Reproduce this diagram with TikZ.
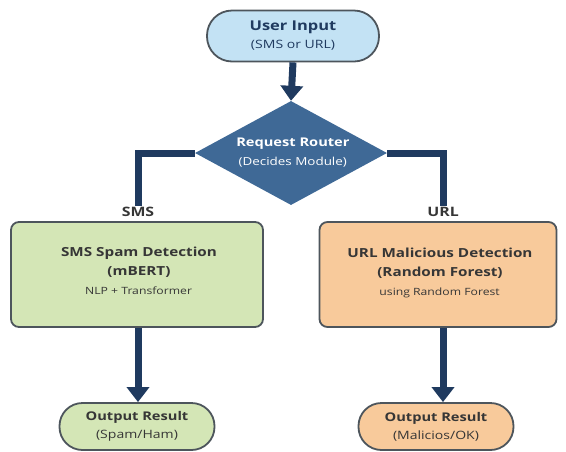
\documentclass[tikz,border=0pt]{standalone}
\usepackage{fontspec}
\setmainfont{Open Sans}[FakeStretch=1.22]
\usetikzlibrary{shapes.geometric,arrows.meta}
\definecolor{navy}{HTML}{1F3A5F}
\definecolor{ublue}{HTML}{C3E2F4}
\definecolor{rblue}{HTML}{3F6996}
\definecolor{sgreen}{HTML}{D4E6B6}
\definecolor{upeach}{HTML}{F8CA9B}
\definecolor{edge}{HTML}{4D555C}
\definecolor{txt}{HTML}{363636}
\newcommand{\fs}[1]{\fontsize{#1}{19}\selectfont}
\begin{document}
\begin{tikzpicture}[x=1pt,y=-1pt,
  pill/.style={draw=edge, line width=1.8pt, align=center, inner sep=0pt},
  box/.style={draw=edge, line width=1.8pt, rounded corners=8pt, inner sep=0pt, minimum height=105pt},
  btext/.style={align=center, inner sep=0pt, text=txt, font=\fs{12.5}},
  conn/.style={draw=navy, line width=7pt},
  arr/.style={conn, -{Triangle[width=22pt,length=15pt]}},
  lbl/.style={font=\bfseries\fs{13}, text=txt, inner sep=1pt}]
\useasboundingbox (0,0) rectangle (566,451);
\node[pill, fill=ublue, rounded corners=25pt, minimum width=172pt, minimum height=51pt, text=navy,
  font=\fontsize{13}{18}\selectfont] (user) at (293,36)
  {\bfseries\fontsize{13.5}{18}\selectfont User Input\\\fontsize{11.5}{18}\selectfont (SMS or URL)};
\node[shape=diamond, fill=rblue, aspect=1.85, minimum width=192pt, minimum height=104pt, inner sep=0pt,
  text=white, align=center, font=\fs{12}] (router) at (291,153)
  {\bfseries\fs{12} Request Router\\\fs{11} (Decides Module)};
\node[box, fill=sgreen, minimum width=252pt] (sms) at (137,274.5) {};
\node[btext] (smstext) at (137,271)
  {\bfseries\fs{12.5} SMS Spam Detection\\\bfseries\fs{12.5} (mBERT)\\\fs{10} NLP + Transformer};
\node[box, fill=upeach, minimum width=237pt] (url) at (438,274.5) {};
\node[btext] (urltext) at (438,273)
  {\bfseries\fs{12.5} URL Malicious Detection\\\bfseries\fs{12.5} (Random Forest)\\\fs{10} using Random Forest};
\node[lbl] (smslbl) at (138,212) {SMS};
\node[lbl] (urllbl) at (443,212) {URL};
\node[pill, fill=sgreen, rounded corners=23pt, minimum width=155pt, minimum height=47pt, text=txt,
  font=\fontsize{12}{18}\selectfont] (out1) at (137,426.5)
  {\bfseries\fontsize{12}{18}\selectfont Output Result\\\fontsize{11.5}{18}\selectfont (Spam/Ham)};
\node[pill, fill=upeach, rounded corners=23pt, minimum width=155pt, minimum height=47pt, text=txt,
  font=\fontsize{12}{18}\selectfont] (out2) at (436,426.5)
  {\bfseries\fontsize{12}{18}\selectfont Output Result\\\fontsize{11.5}{18}\selectfont (Malicios/OK)};
\coordinate (lc) at (138,153);
\coordinate (rc) at (443,153);
\draw[arr] (user.south) -- (router.north);
\draw[conn] (router.west) -- (lc) -- (smslbl.north);
\draw[conn] (router.east) -- (rc) -- (urllbl.north);
\draw[arr] (sms.south -| smslbl) -- (out1.north -| smslbl);
\draw[arr] (url.south -| urllbl) -- (out2.north -| urllbl);
\end{tikzpicture}
\end{document}
